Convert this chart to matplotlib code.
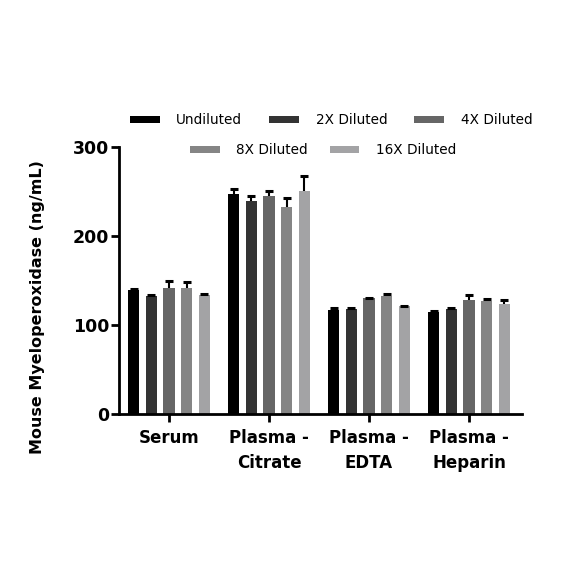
import matplotlib
matplotlib.use("Agg")
import matplotlib.pyplot as plt
import numpy as np
from matplotlib.patches import Patch

categories = ["Serum", "Plasma -\nCitrate", "Plasma -\nEDTA", "Plasma -\nHeparin"]
series = ["Undiluted", "2X Diluted", "4X Diluted", "8X Diluted", "16X Diluted"]
colors = ["#000000", "#333333", "#666666", "#858585", "#a3a3a5"]

undiluted = [139, 247.5, 117, 115]
dil2x = [133, 240, 118, 118]
dil4x = [142, 245, 130, 128]
dil8x = [142, 233, 133, 127]
dil16x = [134, 251, 121, 124]
values = [undiluted, dil2x, dil4x, dil8x, dil16x]

err_undiluted = [1.5, 5, 2, 1]
err_2x = [1, 5, 1.5, 1]
err_4x = [8, 6, 1, 6]
err_8x = [7, 10, 2, 2]
err_16x = [1, 17, 1, 4]
errors = [err_undiluted, err_2x, err_4x, err_8x, err_16x]

plt.rcParams['font.family'] = ['DejaVu Sans']

fig = plt.figure(figsize=(5.84, 5.84), dpi=100)
ax = fig.add_axes([0.2038, 0.291, 0.690, 0.457])

x = np.arange(len(categories))
spacing = 0.177
width = 0.115
for i, (vals, errs, c, name) in enumerate(zip(values, errors, colors, series)):
    pos = x + (i - 2) * spacing
    ax.bar(pos, vals, width=width, color=c, label=name, zorder=2)
    eb = ax.errorbar(pos, vals, yerr=[np.zeros(len(errs)), errs], fmt='none',
                     ecolor='black', elinewidth=1.5, capsize=2.8, capthick=2.2, zorder=3)
    caps = eb[1]
    if len(caps) == 2:
        caps[0].set_visible(False)

ax.set_xlim(-0.5, 3.53)
ax.set_ylim(0, 300)
ax.set_yticks([0, 100, 200, 300])
ax.set_xticks(x)
ax.set_xticklabels(categories, fontsize=12, fontweight='bold', linespacing=1.45)
for t in ax.get_yticklabels():
    t.set_fontsize(12.5)
    t.set_fontweight('bold')
for s in ['top', 'right']:
    ax.spines[s].set_visible(False)
for s in ['left', 'bottom']:
    ax.spines[s].set_linewidth(2)
ax.tick_params(axis='y', length=6, width=2, direction='out', pad=1)
ax.tick_params(axis='x', length=6, width=2, direction='out', pad=5)
ax.set_ylabel("Mouse Myeloperoxidase (ng/mL)", fontsize=11.5, fontweight='bold')
ax.yaxis.set_label_coords(-0.184, 0.40)

handles = [Patch(facecolor=c, edgecolor='none') for c in colors]
leg1 = fig.legend(handles[:3], series[:3], loc='center', bbox_to_anchor=(0.567, 0.794),
                  ncol=3, frameon=False, fontsize=9.8, handlelength=2.2, handleheight=0.45,
                  columnspacing=2.0, handletextpad=1.2)
leg2 = fig.legend(handles[3:], series[3:], loc='center', bbox_to_anchor=(0.553, 0.743),
                  ncol=2, frameon=False, fontsize=9.8, handlelength=2.2, handleheight=0.45,
                  columnspacing=1.6, handletextpad=1.2)

fig.savefig("out.png", dpi=100)
